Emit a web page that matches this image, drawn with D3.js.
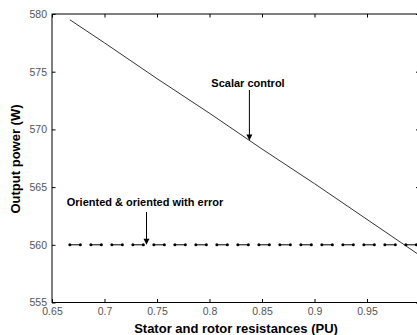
<!DOCTYPE html>
<html>
<head>
<meta charset="utf-8">
<script src="https://cdn.jsdelivr.net/npm/d3@7"></script>
<style>
  html, body { margin: 0; padding: 0; background: #fff; overflow: hidden; }
  svg { display: block; font-family: Arial, "Liberation Sans", sans-serif; }
</style>
</head>
<body>
<svg id="chart" width="417" height="335"></svg>
<script>
// Output power against stator/rotor resistance for the two control schemes
const scalarR = [0.667, 0.7, 0.75, 0.8, 0.85, 0.9, 0.95, 1.0];
const scalarP = [579.5, 577.5, 574.4, 571.4, 568.3, 565.3, 562.2, 559.1];

const orientedR = [0.667, 0.677, 0.687, 0.697, 0.707, 0.717, 0.727, 0.737, 0.747, 0.757,
                   0.767, 0.777, 0.787, 0.797, 0.807, 0.817, 0.827, 0.837, 0.847, 0.857,
                   0.867, 0.877, 0.887, 0.897, 0.907, 0.917, 0.927, 0.937, 0.947, 0.957,
                   0.967, 0.977, 0.987, 0.997];
const orientedP = [560, 560, 560, 560, 560, 560, 560, 560, 560, 560,
                   560, 560, 560, 560, 560, 560, 560, 560, 560, 560,
                   560, 560, 560, 560, 560, 560, 560, 560, 560, 560,
                   560, 560, 560, 560];

const xTicks = [0.65, 0.7, 0.75, 0.8, 0.85, 0.9, 0.95, 1.0];
const xTickLabels = ["0.65", "0.7", "0.75", "0.8", "0.85", "0.9", "0.95", ""];
const yTicks = [555, 560, 565, 570, 575, 580];

const svg = d3.select("#chart");
const mLeft = 52, mTop = 14, mRight = 419.5, mBottom = 302.5;

const x = d3.scaleLinear().domain([0.65, 1.0]).range([mLeft, mRight]);
const y = d3.scaleLinear().domain([555, 580]).range([mBottom, mTop]);

const fmtX = (d, i) => xTickLabels[i];

// frame
svg.append("rect")
  .attr("x", mLeft).attr("y", mTop)
  .attr("width", mRight - mLeft).attr("height", mBottom - mTop)
  .attr("fill", "none").attr("stroke", "#000").attr("stroke-width", 1);

// inward ticks on all four sides
const tickLen = 3.5;
const axStyle = g => {
  g.select(".domain").remove();
  g.selectAll(".tick line").attr("stroke", "#000");
  g.selectAll(".tick text").attr("fill", "#555").attr("font-size", "10.5px")
    .attr("font-family", "Arial, 'Liberation Sans', sans-serif");
};

svg.append("g").attr("transform", `translate(0,${mBottom})`)
  .call(d3.axisBottom(x).tickValues(xTicks).tickFormat(fmtX).tickSizeInner(-tickLen).tickSizeOuter(0).tickPadding(5))
  .call(axStyle);
svg.append("g").attr("transform", `translate(0,${mTop})`)
  .call(d3.axisTop(x).tickValues(xTicks).tickFormat("").tickSizeInner(-tickLen).tickSizeOuter(0))
  .call(axStyle);
svg.append("g").attr("transform", `translate(${mLeft},0)`)
  .call(d3.axisLeft(y).tickValues(yTicks).tickSizeInner(-tickLen).tickSizeOuter(0).tickPadding(5))
  .call(axStyle);
svg.append("g").attr("transform", `translate(${mRight},0)`)
  .call(d3.axisRight(y).tickValues(yTicks).tickFormat("").tickSizeInner(-tickLen).tickSizeOuter(0))
  .call(axStyle);

// axis titles
svg.append("text")
  .attr("x", 236).attr("y", 333)
  .attr("text-anchor", "middle").attr("font-weight", "bold").attr("font-size", "13px")
  .text("Stator and rotor resistances (PU)");
svg.append("text")
  .attr("transform", `translate(20,159) rotate(-90)`)
  .attr("text-anchor", "middle").attr("font-weight", "bold").attr("font-size", "13px")
  .text("Output power (W)");

const plot = svg.append("g");

// scalar control: solid line
plot.append("path")
  .datum(scalarR.map((r, i) => [r, scalarP[i]]))
  .attr("fill", "none").attr("stroke", "#000").attr("stroke-width", 0.8)
  .attr("d", d3.line().x(d => x(d[0])).y(d => y(d[1])));

// oriented & oriented with error: dashed line with dot markers
const step = x(orientedR[1]) - x(orientedR[0]);
plot.append("path")
  .datum(orientedR.map((r, i) => [r, orientedP[i]]))
  .attr("fill", "none").attr("stroke", "#000").attr("stroke-width", 1)
  .attr("stroke-dasharray", `${step},${step}`)
  .attr("d", d3.line().x(d => x(d[0])).y(d => y(d[1])));
plot.selectAll("circle.m")
  .data(orientedR.map((r, i) => [r, orientedP[i]]))
  .join("circle").attr("class", "m")
  .attr("cx", d => x(d[0])).attr("cy", d => y(d[1]))
  .attr("r", 1.5).attr("fill", "#000");

// annotations with arrows
function arrow(x0, y0, y1) {
  plot.append("line")
    .attr("x1", x0).attr("y1", y0).attr("x2", x0).attr("y2", y1 - 5)
    .attr("stroke", "#000").attr("stroke-width", 1);
  plot.append("path")
    .attr("d", `M${x0 - 3},${y1 - 6} L${x0 + 3},${y1 - 6} L${x0},${y1} Z`)
    .attr("fill", "#000");
}

const scalarAt = 0.838;
const scalarVal = d3.scaleLinear().domain(scalarR).range(scalarP)(scalarAt);
svg.append("text")
  .attr("x", 248).attr("y", 87)
  .attr("text-anchor", "middle").attr("font-weight", "bold").attr("font-size", "11px")
  .text("Scalar control");
arrow(x(scalarAt), 90, y(scalarVal));

const orientedAt = 0.740;
svg.append("text")
  .attr("x", 145).attr("y", 206)
  .attr("text-anchor", "middle").attr("font-weight", "bold").attr("font-size", "11px")
  .text("Oriented & oriented with error");
arrow(x(orientedAt), 212, y(560));
</script>
</body>
</html>
